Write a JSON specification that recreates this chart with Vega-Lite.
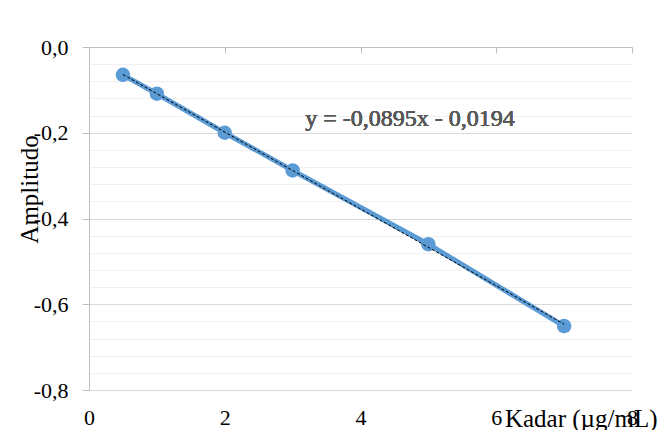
{
  "$schema": "https://vega.github.io/schema/vega-lite/v6.json",
  "width": 543,
  "height": 343,
  "autosize": "none",
  "padding": {"left": 89, "top": 47, "right": 30, "bottom": 40},
  "background": "white",
  "config": {
    "view": {"stroke": null},
    "font": "Liberation Serif",
    "axis": {"labelFont": "Liberation Serif", "titleFont": "Liberation Serif", "titleFontWeight": "normal", "labelFlush": false}
  },
  "data": {
    "values": [
      {"kadar": 0.5, "amp": -0.065},
      {"kadar": 1, "amp": -0.109},
      {"kadar": 2, "amp": -0.2},
      {"kadar": 3, "amp": -0.288},
      {"kadar": 5, "amp": -0.46},
      {"kadar": 7, "amp": -0.651}
    ]
  },
  "resolve": {"axis": {"x": "independent", "y": "independent"}},
  "layer": [
    {
      "mark": {"type": "rule", "opacity": 0},
      "encoding": {
        "y": {
          "field": "amp", "type": "quantitative",
          "scale": {"domain": [-0.8, 0], "nice": false, "zero": false},
          "axis": {"orient": "right", "values": [-0.76, -0.72, -0.68, -0.64, -0.56, -0.52, -0.48, -0.44, -0.36, -0.32, -0.28, -0.24, -0.16, -0.12, -0.08, -0.04],
            "grid": true, "gridColor": "#f0f0f0", "gridWidth": 1, "labels": false, "ticks": false, "domain": false, "title": null}
        },
        "x": {
          "field": "kadar", "type": "quantitative",
          "scale": {"domain": [0, 8], "nice": false},
          "axis": {"orient": "top", "values": [0, 2, 4, 6, 8], "grid": false, "labels": false, "domain": true, "domainColor": "#bfbfbf", "domainWidth": 1,
            "ticks": true, "tickSize": -6, "tickColor": "#bfbfbf", "tickWidth": 1, "title": null}
        }
      }
    },
    {
      "mark": {"type": "line", "color": "#5b9bd5", "strokeWidth": 5, "point": {"filled": true, "size": 210, "color": "#5b9bd5", "opacity": 1}},
      "encoding": {
        "x": {
          "field": "kadar", "type": "quantitative",
          "scale": {"domain": [0, 8], "nice": false},
          "axis": {"orient": "bottom", "values": [0, 2, 4, 6, 8], "grid": false, "domain": false, "ticks": false,
            "labelFontSize": 22, "labelColor": "#000000", "labelPadding": 17, "labelFlush": false,
            "title": "Kadar (µg/mL)", "titleFontSize": 25, "titleColor": "#000000",
            "titleAlign": "right", "titleX": 568, "titleY": 36, "titleBaseline": "alphabetic"}
        },
        "y": {
          "field": "amp", "type": "quantitative",
          "scale": {"domain": [-0.8, 0], "nice": false, "zero": false},
          "axis": {"orient": "left", "values": [0, -0.2, -0.4, -0.6, -0.8], "grid": true, "gridColor": "#d9d9d9", "gridWidth": 1,
            "domain": true, "domainColor": "#bfbfbf", "ticks": true, "tickSize": 7, "tickColor": "#bfbfbf",
            "labelFontSize": 22, "labelColor": "#000000", "labelPadding": 14, "labelFlush": false,
            "labelExpr": "(datum.value < 0 ? '-' : '') + replace(format(abs(datum.value), '.1f'), '.', ',')",
            "title": "Amplitudo", "titleFontSize": 25, "titleColor": "#000000",
            "titleX": -60, "titleY": 142, "titleAlign": "center", "titleBaseline": "middle", "titleAngle": 270}
        }
      }
    },
    {
      "transform": [{"regression": "amp", "on": "kadar"}],
      "mark": {"type": "line", "color": "#000000", "strokeWidth": 1, "strokeDash": [3, 2]},
      "encoding": {
        "x": {"field": "kadar", "type": "quantitative", "scale": {"domain": [0, 8], "nice": false}, "axis": null},
        "y": {"field": "amp", "type": "quantitative", "scale": {"domain": [-0.8, 0], "nice": false, "zero": false}, "axis": null}
      }
    },
    {
      "mark": {"type": "text", "fontSize": 24, "color": "#595959", "font": "Liberation Serif", "align": "center", "baseline": "middle"},
      "encoding": {
        "x": {"datum": 4.73, "type": "quantitative", "scale": {"domain": [0, 8], "nice": false}, "axis": null},
        "y": {"datum": -0.167, "type": "quantitative", "scale": {"domain": [-0.8, 0], "nice": false, "zero": false}, "axis": null},
        "text": {"value": "y = -0,0895x - 0,0194"}
      }
    }
  ]
}
